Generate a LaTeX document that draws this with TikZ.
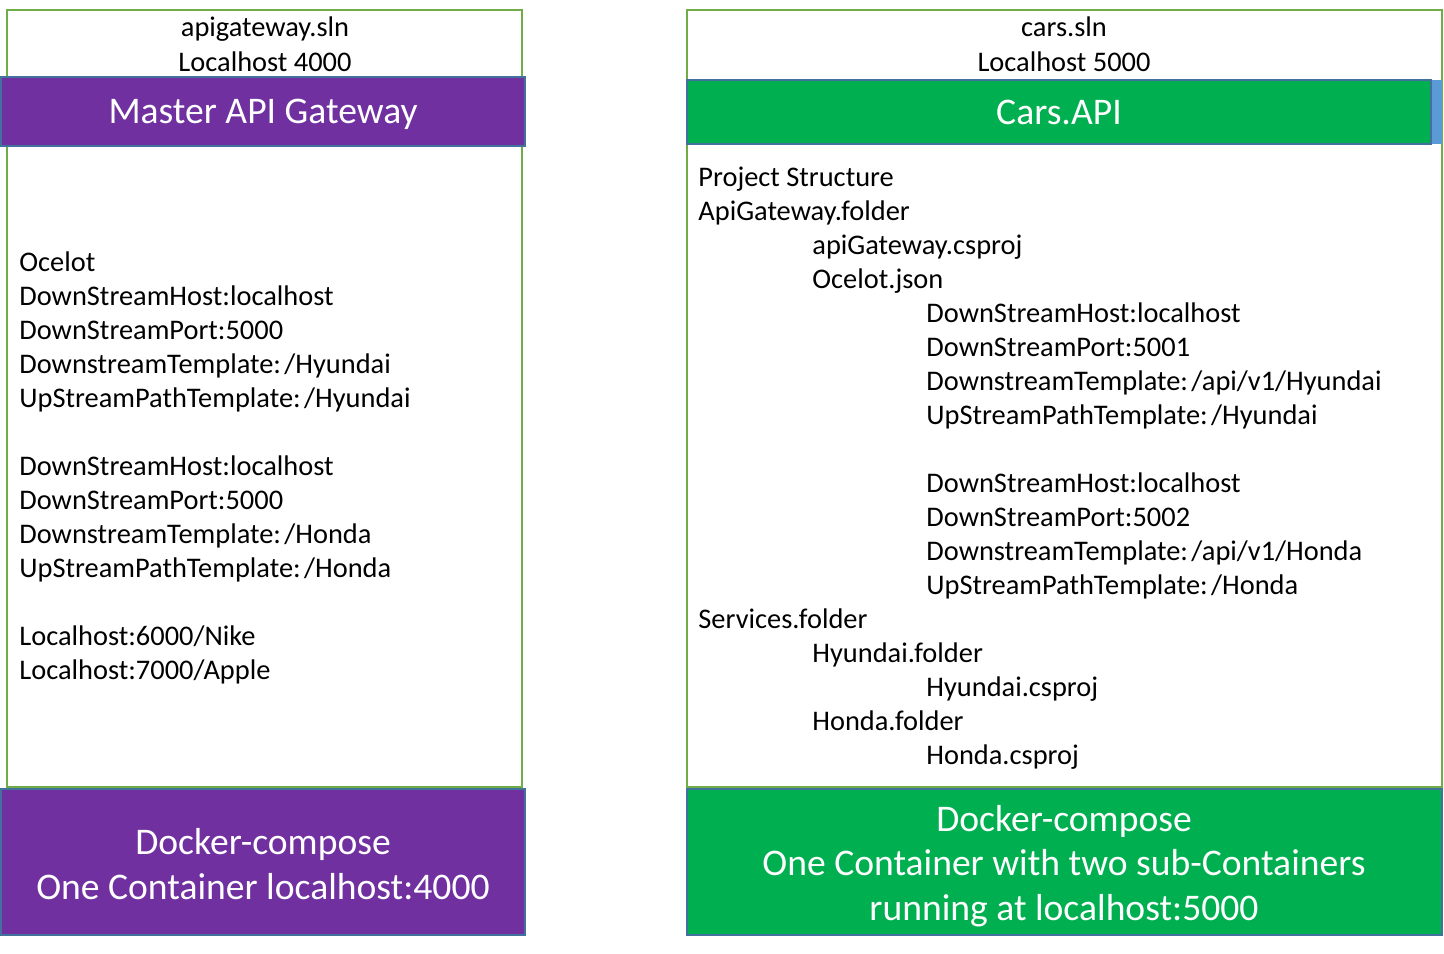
\documentclass[tikz,border=0pt]{standalone}
\usepackage{fontspec}
\setmainfont{Carlito}
\definecolor{gpurple}{HTML}{7030A0}
\definecolor{ggreen}{HTML}{00B050}
\definecolor{edgeblue}{HTML}{41719C}
\definecolor{lgreen}{HTML}{70AD47}
\definecolor{sblue}{HTML}{5B9BD5}
\newcommand{\csp}{\hspace{0.12em}}
\tikzset{
  frame/.style={draw=lgreen, line width=1pt, fill=white},
  bar/.style={draw=edgeblue, line width=1.2pt},
  body/.style={anchor=base west, inner sep=0pt, font=\fontsize{14.2}{17}\selectfont},
  head/.style={anchor=base, inner sep=0pt, font=\fontsize{14.2}{17}\selectfont},
  big/.style={text=white, align=center, inner sep=0pt, font=\fontsize{18.8}{22.2}\selectfont},
  bigb/.style={text=white, anchor=base, inner sep=0pt, font=\fontsize{18.8}{22.2}\selectfont}
}
\begin{document}
\begin{tikzpicture}[x=0.5pt,y=-0.5pt]
\useasboundingbox (0,0) rectangle (1444,953);
% left column
\draw[frame] (7,10) rectangle (522,787);
\draw[bar, fill=gpurple] (1,77) rectangle (525,146);
\draw[bar, fill=gpurple] (1,789) rectangle (525,935);
\node[head] (lsln) at (265,36) {apigateway.sln};
\node[head] (lhost) at (265,71) {Localhost 4000};
\node[bigb] (mag) at (263,123) {Master API Gateway};
\node[big] (ldock) at (263,864) {Docker-compose\\One Container localhost:4000};
\foreach \x/\y/\t [count=\i] in {
  19/261/{Ocelot},
  19/295/{DownStreamHost:localhost},
  19/329/{DownStreamPort:5000},
  19/363/{DownstreamTemplate:\csp/Hyundai},
  19/397/{UpStreamPathTemplate:\csp/Hyundai},
  19/465/{DownStreamHost:localhost},
  19/499/{DownStreamPort:5000},
  19/533/{DownstreamTemplate:\csp/Honda},
  19/567/{UpStreamPathTemplate:\csp/Honda},
  19/635/{Localhost:6000/Nike},
  19/669/{Localhost:7000/Apple}}
  \node[body] (l\i) at (\x,\y+10) {\t};
% right column
\draw[frame] (687,10) rectangle (1442,787);
\fill[sblue] (1431,80) rectangle (1442,144);
\draw[bar, fill=ggreen] (687,80) rectangle (1431,144);
\draw[bar, fill=ggreen] (687,789) rectangle (1442,935);
\node[head] (rsln) at (1064,36) {cars.sln};
\node[head] (rhost) at (1064,71) {Localhost 5000};
\node[bigb] (cars) at (1059,124) {Cars.API};
\node[big] (rdock) at (1064,866) {Docker-compose\\One Container with two sub-Containers\\running at localhost:5000};
\foreach \x/\y/\t [count=\i] in {
  698/176/{Project Structure},
  698/210/{ApiGateway.folder},
  812/244/{apiGateway.csproj},
  812/278/{Ocelot.json},
  926/312/{DownStreamHost:localhost},
  926/346/{DownStreamPort:5001},
  926/380/{DownstreamTemplate:\csp/api/v1/Hyundai},
  926/414/{UpStreamPathTemplate:\csp/Hyundai},
  926/482/{DownStreamHost:localhost},
  926/516/{DownStreamPort:5002},
  926/550/{DownstreamTemplate:\csp/api/v1/Honda},
  926/584/{UpStreamPathTemplate:\csp/Honda},
  698/618/{Services.folder},
  812/652/{Hyundai.folder},
  926/686/{Hyundai.csproj},
  812/720/{Honda.folder},
  926/754/{Honda.csproj}}
  \node[body] (r\i) at (\x,\y+10) {\t};
\end{tikzpicture}
\end{document}
